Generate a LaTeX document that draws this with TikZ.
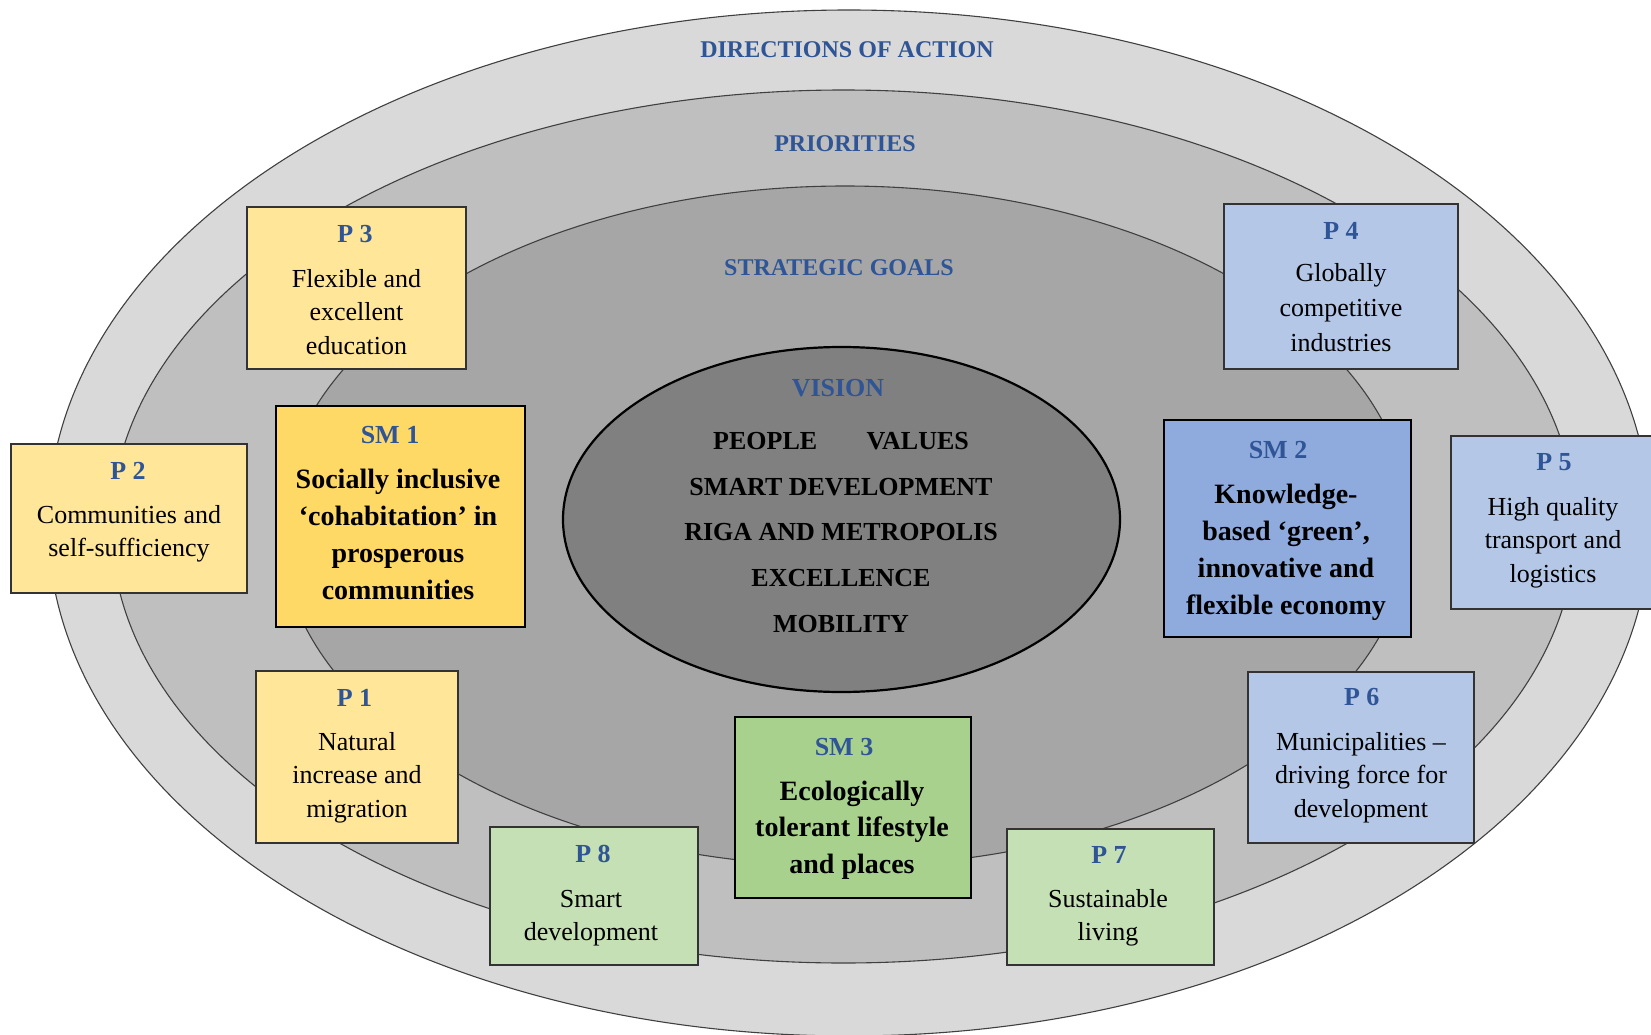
\documentclass[tikz,border=0pt]{standalone}
\usepackage{fontspec}
\setmainfont{Liberation Serif}
\definecolor{ringA}{HTML}{D9D9D9}
\definecolor{ringB}{HTML}{BFBFBF}
\definecolor{ringC}{HTML}{A6A6A6}
\definecolor{ringD}{HTML}{808080}
\definecolor{ttlblue}{RGB}{47,85,151}
\definecolor{yelP}{HTML}{FFE699}
\definecolor{yelS}{HTML}{FFD966}
\definecolor{bluP}{HTML}{B4C7E7}
\definecolor{bluS}{HTML}{8FAADC}
\definecolor{grnP}{HTML}{C5E0B4}
\definecolor{grnS}{HTML}{A9D18E}
\newcommand\mystack[1]{\begin{tabular}[t]{@{}c@{}}#1\end{tabular}}
\begin{document}
\begin{tikzpicture}[x=1pt,y=-1pt,
  ring/.style={draw=black!75, line width=1.1pt},
  pbox/.style={draw=black!80, line width=1.4pt, inner sep=0pt, outer sep=0pt},
  smbox/.style={draw=black, line width=2.6pt, inner sep=0pt, outer sep=0pt},
  head/.style={anchor=base, inner sep=0pt, text=ttlblue, font=\fontsize{24}{28}\selectfont\bfseries},
  ptitle/.style={anchor=base, inner sep=0pt, text=ttlblue, font=\fontsize{26}{30}\selectfont\bfseries},
  pbody/.style={anchor=base, inner sep=0pt, font=\fontsize{26}{33.5}\selectfont},
  smbody/.style={anchor=base, inner sep=0pt, font=\fontsize{28}{37}\selectfont\bfseries},
  vis/.style={anchor=base, inner sep=0pt, font=\fontsize{26}{30}\selectfont\bfseries},
]
\useasboundingbox (0,0) rectangle (1651,1035);

% rings
\draw[ring, fill=ringA] (849,523) ellipse [x radius=801pt, y radius=513pt];
\draw[ring, fill=ringB] (843.5,526.5) ellipse [x radius=732pt, y radius=436.5pt];
\draw[ring, fill=ringC] (845,526) ellipse [x radius=565pt, y radius=340pt];
\draw[draw=black, line width=2.2pt, fill=ringD] (841.5,519.5) ellipse [x radius=278.5pt, y radius=172.5pt];

% headings
\node[head] (hdir) at (847,57.7) {DIRECTIONS OF ACTION};
\node[head] (hpri) at (845,151.7) {PRIORITIES};
\node[head] (hsg) at (839,275) {STRATEGIC GOALS};
\node[head, font=\fontsize{26}{30}\selectfont\bfseries] (hvis) at (838,396) {VISION};

% vision content
\node[vis] (v1) at (841,449) {PEOPLE\hspace{49.5pt}VALUES};
\node[vis] (v2) at (841,495) {SMART DEVELOPMENT};
\node[vis] (v3) at (841,540) {RIGA AND METROPOLIS};
\node[vis] (v4) at (841,586) {EXCELLENCE};
\node[vis] (v5) at (841,632.7) {MOBILITY};

% priority boxes
\node[pbox, fill=yelP, minimum width=219pt, minimum height=162pt] (p3) at (356.5,288) {};
\node[ptitle] (p3t) at (355,242) {P 3};
\node[pbody] (p3b) at (356.5,287) {\mystack{Flexible and\\excellent\\education}};

\node[pbox, fill=yelP, minimum width=236pt, minimum height=149pt] (p2) at (129,518.5) {};
\node[ptitle] (p2t) at (128,479) {P 2};
\node[pbody] (p2b) at (129,523) {\mystack{Communities and\\self-sufficiency}};

\node[pbox, fill=yelP, minimum width=202pt, minimum height=172pt] (p1) at (357,757) {};
\node[ptitle] (p1t) at (354.5,706) {P 1};
\node[pbody] (p1b) at (357,750) {\mystack{Natural\\increase and\\migration}};

\node[pbox, fill=bluP, minimum width=234pt, minimum height=165pt] (p4) at (1341,286.5) {};
\node[ptitle] (p4t) at (1341,239) {P 4};
\node[pbody, font=\fontsize{26}{35}\selectfont] (p4b) at (1341,281) {\mystack{Globally\\competitive\\industries}};

\node[pbox, fill=bluP, minimum width=204pt, minimum height=173pt] (p5) at (1553,522.5) {};
\node[ptitle] (p5t) at (1554,470) {P 5};
\node[pbody] (p5b) at (1553,515) {\mystack{High quality\\transport and\\logistics}};

\node[pbox, fill=bluP, minimum width=226pt, minimum height=171pt] (p6) at (1361,757.5) {};
\node[ptitle] (p6t) at (1361.7,705) {P 6};
\node[pbody] (p6b) at (1361,750) {\mystack{Municipalities –\\driving force for\\development}};

\node[pbox, fill=grnP, minimum width=207pt, minimum height=136pt] (p7) at (1110.5,897) {};
\node[ptitle] (p7t) at (1109,863) {P 7};
\node[pbody] (p7b) at (1108,907) {\mystack{Sustainable\\living}};

\node[pbox, fill=grnP, minimum width=208pt, minimum height=138pt] (p8) at (594,896) {};
\node[ptitle] (p8t) at (593,862) {P 8};
\node[pbody] (p8b) at (591,907) {\mystack{Smart\\development}};

% strategic goal boxes
\node[smbox, fill=yelS, minimum width=249pt, minimum height=221pt] (sm1) at (400.5,516.5) {};
\node[ptitle] (sm1t) at (390,443) {SM 1};
\node[smbody] (sm1b) at (398,488) {\mystack{Socially inclusive\\‘cohabitation’ in\\prosperous\\communities}};

\node[smbox, fill=bluS, minimum width=247pt, minimum height=217pt] (sm2) at (1287.5,528.5) {};
\node[ptitle] (sm2t) at (1278,458) {SM 2};
\node[smbody] (sm2b) at (1286,503) {\mystack{Knowledge-\\based ‘green’,\\innovative and\\flexible economy}};

\node[smbox, fill=grnS, minimum width=236pt, minimum height=181pt] (sm3) at (853,807.5) {};
\node[ptitle] (sm3t) at (844,755) {SM 3};
\node[smbody, font=\fontsize{28}{36.5}\selectfont\bfseries] (sm3b) at (852,800) {\mystack{Ecologically\\tolerant lifestyle\\and places}};
\end{tikzpicture}
\end{document}
